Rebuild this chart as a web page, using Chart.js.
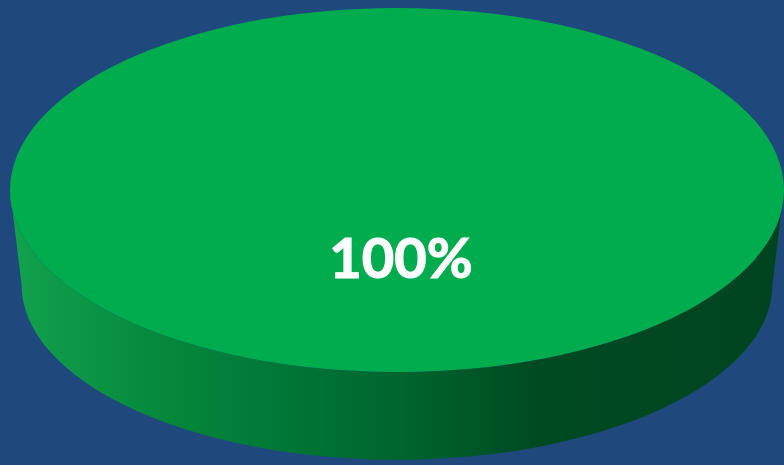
<!DOCTYPE html>
<html lang="en">
<head>
    <meta charset="UTF-8">
    <title>3D Pie</title>
    <script src="https://cdn.jsdelivr.net/npm/chart.js"></script>
    <style>
        html, body { margin: 0; padding: 0; background: #1F497D; overflow: hidden; }
        canvas { display: block; }
    </style>
</head>
<body>
    <canvas id="pieChart" width="784" height="465"></canvas>

    <script>
        // Data
        const categories = ['Series 1'];
        const values = [100];
        const sliceColors = ['#00AC4E'];

        // 3D look: horizontal stretch of the top face and the side wall
        const stretchX = 387 / 182;
        const depth = 95;
        const bottomShrinkX = 0.97;
        const bottomShrinkY = 0.96;

        function sideGradient(ctx, x0, x1) {
            const g = ctx.createLinearGradient(x0, 0, x1, 0);
            g.addColorStop(0, '#12A24E');
            g.addColorStop(0.18, '#068A3D');
            g.addColorStop(0.37, '#007535');
            g.addColorStop(0.53, '#00612D');
            g.addColorStop(0.68, '#004A22');
            g.addColorStop(1, '#00441F');
            return g;
        }

        const pie3d = {
            id: 'pie3d',
            beforeDatasetsDraw(chart) {
                const ctx = chart.ctx;
                const arc = chart.getDatasetMeta(0).data[0];
                const cx = arc.x, cy = arc.y, r = arc.outerRadius;
                const rx = r * stretchX;

                // side wall
                ctx.save();
                ctx.beginPath();
                ctx.ellipse(cx, cy, rx, r, 0, 0, Math.PI);
                ctx.ellipse(cx, cy + depth, rx * bottomShrinkX, r * bottomShrinkY, 0, Math.PI, 0, true);
                ctx.closePath();
                ctx.fillStyle = sideGradient(ctx, cx - rx, cx + rx);
                ctx.fill();
                ctx.restore();

                // stretch the top face
                ctx.save();
                ctx.translate(cx, cy);
                ctx.scale(stretchX, 1);
                ctx.translate(-cx, -cy);
            },
            afterDatasetsDraw(chart) {
                chart.ctx.restore();
            },
            afterDraw(chart) {
                const ctx = chart.ctx;
                const arc = chart.getDatasetMeta(0).data[0];
                const label = values[0] + '%';
                ctx.save();
                ctx.fillStyle = '#FFFFFF';
                ctx.strokeStyle = '#FFFFFF';
                ctx.lineWidth = 1.2;
                ctx.font = 'bold 56px Lato, "Open Sans", sans-serif';
                ctx.textAlign = 'center';
                ctx.textBaseline = 'middle';
                ctx.fillText(label, arc.x + 4, arc.y + 70);
                ctx.strokeText(label, arc.x + 4, arc.y + 70);
                ctx.restore();
            }
        };

        new Chart(document.getElementById('pieChart').getContext('2d'), {
            type: 'pie',
            data: {
                labels: categories,
                datasets: [{
                    data: values,
                    backgroundColor: sliceColors,
                    borderWidth: 0
                }]
            },
            options: {
                responsive: false,
                animation: false,
                layout: {
                    padding: { left: 10, right: 0, top: 8, bottom: 93 }
                },
                plugins: {
                    legend: { display: false },
                    tooltip: { enabled: false }
                }
            },
            plugins: [pie3d]
        });
    </script>
</body>
</html>
